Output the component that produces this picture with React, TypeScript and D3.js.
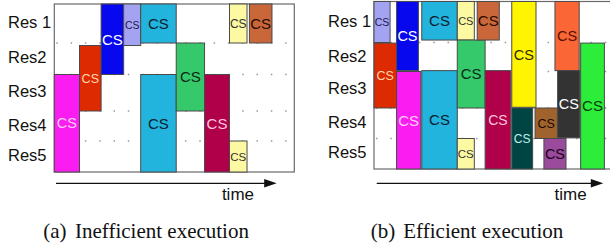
import React from 'react';
import * as d3 from 'd3';

// resources (rows)
const resources = ['Res 1', 'Res2', 'Res3', 'Res4', 'Res5'];

// (a) inefficient execution: critical sections
const jobsA = ['magenta', 'red', 'blue', 'lavender', 'cyan', 'cyan', 'green', 'crimson', 'paleYellow', 'paleYellow', 'rust'];
const startA = [0, 10.5, 19.5, 28.9, 36, 36, 50.8, 62.6, 73, 73, 81.3];
const endA = [10.5, 19.5, 28.9, 36, 50.8, 50.8, 62.6, 73, 80.3, 80.3, 90.7];
const rowFromA = [2, 1.08, 0, 0, 0, 2, 1, 2, 4, 0, 0];
const rowToA = [5, 3, 2, 1.08, 1, 5, 3, 5, 5, 1, 1];

// (b) efficient execution
const jobsB = ['lavender', 'red', 'blue', 'magenta', 'cyan', 'cyan', 'paleYellow', 'green', 'paleYellow', 'rust',
  'crimson', 'yellow', 'teal', 'brown', 'purple', 'orange', 'charcoal', 'lime'];
const startB = [0, 0, 9.4, 9.4, 19.9, 19.9, 34.7, 34.7, 34.7, 43, 46.3, 57.4, 57.4, 67.1, 70.8, 75.4, 76.5, 86.1];
const endB = [6.7, 9.4, 18.5, 19.5, 34.7, 34.7, 41.8, 46.3, 41.8, 52.2, 57, 67.5, 66.1, 76.4, 80, 85.5, 85.8, 96];
const rowFromB = [0, 1.02, 0, 2, 0, 1.97, 0, 0.94, 4, 0, 1.97, 0, 3, 3, 4, 0, 1.97, 1.02];
const rowToB = [1, 3, 1.97, 5, 0.94, 5, 0.94, 3, 5, 0.94, 5, 2.98, 5, 4, 5, 1.97, 3.98, 5];

const label = 'CS';
const captions = [['(a)', 'Inefficient execution'], ['(b)', 'Efficient execution']];

// styles, kept apart from the data
const fill: Record<string, string> = {
  magenta: '#fb1cf2', red: '#dd2a00', blue: '#0808ee', lavender: '#a3a3f2', cyan: '#22b4dc',
  green: '#36c96c', crimson: '#b1004a', paleYellow: '#fdf9a2', rust: '#c9673a', yellow: '#fff500',
  teal: '#004444', brown: '#a1632e', purple: '#9a4b9c', orange: '#fa6636', charcoal: '#333333', lime: '#2cee3a',
};
const ink: Record<string, string> = {
  magenta: '#ffd0ff', red: '#ffd8b0', blue: '#ffffff', lavender: '#1a1a50', cyan: '#0a2030',
  green: '#0a2a15', crimson: '#ffc4dc', paleYellow: '#333333', rust: '#2a0a00', yellow: '#332b00',
  teal: '#bff0f0', brown: '#1a0a00', purple: '#1a001a', orange: '#551100', charcoal: '#ffffff', lime: '#0a3a0a',
};
const sizeA = [14.5, 12.5, 15, 10.5, 15, 15, 15, 15, 11.5, 12, 15];
const sizeB = [10.5, 12.5, 14.5, 15, 15, 15, 11, 15, 11.5, 15, 14, 14.5, 12, 12.5, 14.5, 14.5, 14.5, 15];

const sans = '"Liberation Sans", Arial, sans-serif';
const serif = '"Liberation Serif", "Times New Roman", serif';

type PanelProps = {
  jobs: string[]; start: number[]; end: number[]; rowFrom: number[]; rowTo: number[]; sizes: number[];
  x0: number; rows: number[]; labelX: number; labelShift: number;
  arrow: [number, number]; timeEnd: number; caption: string[]; capX: [number, number];
};

const Panel = (p: PanelProps) => {
  const x = d3.scaleLinear().domain([0, 100]).range([p.x0, p.x0 + 240]);
  const y = d3.scaleLinear().domain(d3.range(6)).range(p.rows);
  const top = y(0), bottom = y(5);
  const arrowY = 183.3;
  return (
    <g>
      <rect x={x(0)} y={top} width={x(100) - x(0)} height={bottom - top} fill="#fff" stroke="#6a6a6a" strokeWidth={1.2} />
      {[1, 2, 3, 4].map(r => (
        <line key={r} x1={x(0) + 2} x2={x(100) - 4} y1={y(r)} y2={y(r)} stroke="#9a9a9a" strokeWidth={1.6} strokeDasharray="1.5 12.8" />
      ))}
      {p.jobs.map((j, i) => {
        const x1 = x(p.start[i]), x2 = x(p.end[i]);
        const y1 = y(p.rowFrom[i]), y2 = y(p.rowTo[i]);
        const fs = p.sizes[i];
        return (
          <g key={i}>
            <rect x={x1} y={y1} width={x2 - x1} height={y2 - y1} fill={fill[j]} stroke="#4a4a4a" strokeWidth={1} />
            <text x={(x1 + x2) / 2} y={(y1 + y2) / 2 + fs * 0.36} textAnchor="middle" fontFamily={sans} fontSize={fs} fill={ink[j]}>{label}</text>
          </g>
        );
      })}
      {resources.map((r, i) => (
        <text key={r} x={p.labelX} y={y(i + 0.5) + p.labelShift} fontFamily={sans} fontSize={16.5} fill="#111">{r}</text>
      ))}
      <line x1={p.arrow[0]} x2={p.arrow[1] - 10} y1={arrowY} y2={arrowY} stroke="#111" strokeWidth={1.3} />
      <path d={`M${p.arrow[1]},${arrowY} L${p.arrow[1] - 12.5},${arrowY - 4.3} L${p.arrow[1] - 12.5},${arrowY + 4.3} Z`} fill="#111" />
      <text x={p.timeEnd} y={200} textAnchor="end" fontFamily={sans} fontSize={17} fill="#111">time</text>
      <text x={p.capX[0]} y={238} fontFamily={serif} fontSize={21} fill="#111">{p.caption[0]}</text>
      <text x={p.capX[1]} y={238} fontFamily={serif} fontSize={21} fill="#111">{p.caption[1]}</text>
    </g>
  );
};

export default function App() {
  return (
    <svg width={610} height={247} style={{ position: 'absolute', left: 0, top: 0, background: '#fff' }}>
      <rect width={610} height={247} fill="#fff" />
      <Panel jobs={jobsA} start={startA} end={endA} rowFrom={rowFromA} rowTo={rowToA} sizes={sizeA}
        x0={54.3} rows={[4, 43, 74.5, 111, 141, 172]} labelX={8} labelShift={4.5}
        arrow={[56, 276.7]} timeEnd={254} caption={captions[0]} capX={[43.3, 75]} />
      <Panel jobs={jobsB} start={startB} end={endB} rowFrom={rowFromB} rowTo={rowToB} sizes={sizeB}
        x0={374} rows={[1.5, 42.5, 71.5, 108, 138.5, 169]} labelX={328} labelShift={4.5}
        arrow={[376.7, 603.3]} timeEnd={586.7} caption={captions[1]} capX={[370.7, 403.3]} />
    </svg>
  );
}
